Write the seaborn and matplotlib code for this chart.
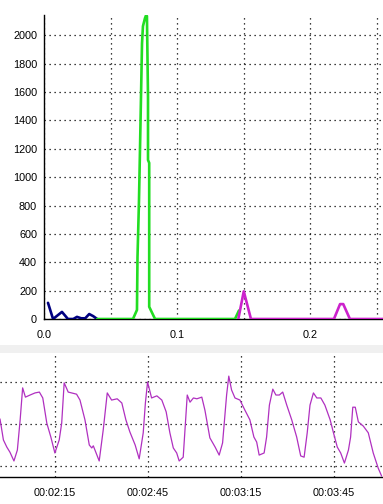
import matplotlib
matplotlib.use("Agg")
import matplotlib.pyplot as plt
import matplotlib.patches as mpatches
from matplotlib.ticker import MultipleLocator
import seaborn as sns
import pandas as pd

sns.set_style("white")
plt.rcParams['font.family'] = ['Liberation Sans', 'DejaVu Sans']

# ---------------- data: top panel ----------------
blue_x = [0.003, 0.0068, 0.0135, 0.018, 0.022, 0.0248, 0.028, 0.031, 0.034, 0.037, 0.040]
blue_y = [114, 0, 50, 0, 0, 15, 5, 5, 35, 20, 0]

green_x = [0.040, 0.0669, 0.0699, 0.0703, 0.0714, 0.0722, 0.0737, 0.0744, 0.0759, 0.0767,
           0.0774, 0.0782, 0.0782, 0.0791, 0.0791, 0.0835, 0.1436, 0.1466]
green_y = [0, 0, 64, 436, 829, 1207, 1943, 2064, 2120, 2140,
           2135, 1564, 1121, 1100, 86, 0, 0, 60]

magenta_x = [0.1461, 0.1502, 0.1556, 0.218, 0.2226, 0.2250, 0.230, 0.256]
magenta_y = [0, 195, 0, 0, 105, 105, 0, 0]

# ---------------- data: bottom panel ----------------
trace_t = [117.3, 118.4, 119.5, 120.5, 121.8, 122.9, 123.8, 124.6, 125.5, 127.0,
           128.6, 130.0, 131.1, 132.4, 133.7, 135.0, 136.4, 137.2, 138.0, 139.3,
           140.4, 142.0, 143.1, 144.7, 146.1, 146.9, 147.4, 148.3, 149.3, 150.6,
           151.9, 153.3, 155.1, 156.6, 157.9, 159.2, 160.9, 162.2, 163.5, 164.2,
           164.9, 166.2, 167.9, 169.5, 170.9, 172.1, 173.2, 174.3, 175.1, 176.4,
           177.7, 178.6, 179.7, 180.8, 182.4, 183.4, 185.0, 186.7, 188.0, 189.1,
           190.4, 191.1, 192.0, 193.1, 194.7, 196.3, 197.9, 199.2, 200.1, 200.9,
           202.5, 203.3, 204.2, 205.3, 206.3, 207.4, 208.5, 209.8, 211.4, 213.0,
           214.3, 215.4, 216.4, 217.3, 218.4, 219.5, 220.8, 222.1, 223.8, 224.8,
           226.1, 227.2, 228.4, 229.7, 230.4, 231.1, 231.9, 232.9, 234.5, 236.1,
           237.7, 239.3, 240.4]
trace_v = [2.12, 1.62, 1.45, 1.33, 1.12, 1.38, 2.10, 2.86, 2.64, 2.69,
           2.74, 2.76, 2.62, 2.02, 1.69, 1.31, 1.62, 2.02, 2.98, 2.76,
           2.74, 2.71, 2.57, 2.10, 1.50, 1.43, 1.48, 1.31, 1.12, 1.86,
           2.74, 2.57, 2.60, 2.50, 2.10, 1.81, 1.50, 1.17, 1.79, 2.50,
           3.00, 2.62, 2.67, 2.57, 2.29, 1.79, 1.43, 1.31, 1.12, 1.21,
           2.69, 2.52, 2.62, 2.60, 2.64, 2.33, 1.67, 1.45, 1.26, 1.55,
           2.69, 3.14, 2.81, 2.62, 2.57, 2.33, 2.10, 1.69, 1.57, 1.26,
           1.31, 1.69, 2.45, 2.83, 2.69, 2.69, 2.76, 2.45, 2.10, 1.69,
           1.24, 1.21, 1.79, 2.45, 2.74, 2.62, 2.62, 2.45, 2.10, 1.81,
           1.45, 1.31, 1.07, 1.38, 1.69, 2.40, 2.40, 2.05, 1.95, 1.79,
           1.31, 0.95, 0.76]

time_ticks = [135, 165, 195, 225]
time_labels = ["00:02:15", "00:02:45", "00:03:15", "00:03:45"]

W, H = 383, 504
fig = plt.figure(figsize=(W / 100, H / 100), dpi=100)
fig.patch.set_facecolor("white")

def fx(px):
    return px / W

def fy(py):
    return 1 - py / H

grid_kw = dict(color="black", linestyle=(0, (1, 3)), linewidth=0.9)

# ---------------- top panel ----------------
ax1 = fig.add_axes([fx(44), fy(319), 1 - fx(44), fy(15) - fy(319)])
ax1.set_facecolor("white")
for xs, ys, col in [(blue_x, blue_y, "#000080"),
                    (green_x, green_y, "#22dd22"),
                    (magenta_x, magenta_y, "#cc22cc")]:
    df = pd.DataFrame({"x": xs, "y": ys})
    sns.lineplot(data=df, x="x", y="y", ax=ax1, color=col, linewidth=1.9,
                 estimator=None, sort=False, zorder=3)
ax1.set_xlim(0, (W - 44) / 1330)
ax1.set_ylim(0, 2143)
ax1.xaxis.set_major_locator(MultipleLocator(0.1))
ax1.xaxis.set_minor_locator(MultipleLocator(0.05))
ax1.yaxis.set_major_locator(MultipleLocator(200))
ax1.yaxis.set_minor_locator(MultipleLocator(100))
ax1.xaxis.set_major_formatter(matplotlib.ticker.FormatStrFormatter("%.1f"))
ax1.set_xlabel("")
ax1.set_ylabel("")
for s in ["top", "right"]:
    ax1.spines[s].set_visible(False)
for s in ["left", "bottom"]:
    ax1.spines[s].set_color("black")
    ax1.spines[s].set_linewidth(1.0)
ax1.tick_params(axis="both", which="both", direction="out", color="black",
                labelsize=7.8, labelcolor="black", width=1.0)
ax1.tick_params(axis="y", which="major", length=4, pad=1)
ax1.tick_params(axis="y", which="minor", length=4)
ax1.tick_params(axis="x", which="both", length=3, pad=5)
ax1.tick_params(axis="x", which="minor", length=3)
ax1.grid(True, which="major", axis="y", **grid_kw)
ax1.grid(True, which="minor", axis="x", **grid_kw)
ax1.grid(True, which="major", axis="x", **grid_kw)

# grey separator band
fig.patches.append(mpatches.Rectangle((0, fy(353)), 1, fy(345) - fy(353),
                                      transform=fig.transFigure,
                                      facecolor="#f0f0f0", edgecolor="none",
                                      zorder=0))

# ---------------- bottom panel ----------------
ax2 = fig.add_axes([0, fy(477), 1, fy(355) - fy(477)])
ax2.set_facecolor("white")
df2 = pd.DataFrame({"t": trace_t, "v": trace_v})
sns.lineplot(data=df2, x="t", y="v", ax=ax2, color="#b030c0", linewidth=0.9,
             estimator=None, sort=False, zorder=3)
ax2.set_xlim(117.3, 117.3 + W * 30 / 93)
ax2.set_ylim(1 + (466 - 477) / 42, 1 + (466 - 355) / 42)
ax2.set_xticks(time_ticks)
ax2.set_xticklabels(time_labels)
ax2.xaxis.set_minor_locator(MultipleLocator(15))
ax2.set_yticks([1, 2, 3])
ax2.set_yticklabels([])
ax2.set_xlabel("")
ax2.set_ylabel("")
for s in ["top", "right", "left"]:
    ax2.spines[s].set_visible(False)
ax2.spines["bottom"].set_color("black")
ax2.spines["bottom"].set_linewidth(1.0)
ax2.tick_params(axis="x", which="both", direction="out", length=5, width=1.0,
                color="black", labelsize=7.8, labelcolor="black", pad=3)
ax2.tick_params(axis="y", which="both", length=0)
ax2.grid(True, which="major", axis="both", **grid_kw)

fig.savefig("out.png", dpi=100, facecolor="white")
